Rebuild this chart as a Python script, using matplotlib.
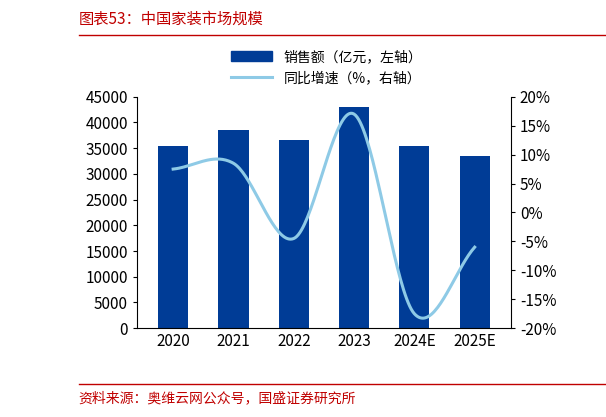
import numpy as np
import matplotlib.pyplot as plt
from matplotlib.lines import Line2D

plt.rcParams['font.family'] = ['Noto Sans CJK SC', 'DejaVu Sans']

years = ['2020', '2021', '2022', '2023', '2024E', '2025E']
sales = [35500, 38500, 36500, 43000, 35500, 33500]
growth = [7.5, 8.5, -4.5, 17.0, -17.5, -6.0]


def catmull_rom(x, y, n=40):
    # 类似 Excel 平滑线的插值
    x = np.asarray(x, float)
    y = np.asarray(y, float)
    px = np.concatenate([[2 * x[0] - x[1]], x, [2 * x[-1] - x[-2]]])
    py = np.concatenate([[2 * y[0] - y[1]], y, [2 * y[-1] - y[-2]]])
    xs, ys = [], []
    t = np.linspace(0, 1, n)
    for i in range(1, len(px) - 2):
        for p, out in ((px, xs), (py, ys)):
            p0, p1, p2, p3 = p[i - 1], p[i], p[i + 1], p[i + 2]
            out.extend(0.5 * (2 * p1 + (-p0 + p2) * t
                              + (2 * p0 - 5 * p1 + 4 * p2 - p3) * t ** 2
                              + (-p0 + 3 * p1 - 3 * p2 + p3) * t ** 3))
    return np.array(xs), np.array(ys)


fig = plt.figure(figsize=(6.06, 4.17), dpi=100)
ax = fig.add_axes([0.226, 0.213, 0.617, 0.555])
x = np.arange(len(years))
ax.bar(x, sales, width=0.5, color='#003C96')
ax.set_ylim(0, 45000)
ax.set_yticks(range(0, 45001, 5000))
ax.set_xticks(x)
ax.set_xticklabels(years)
ax.set_xlim(-0.6, len(years) - 0.4)
ax.tick_params(labelsize=11, length=0)
ax.tick_params(axis='y', length=3)
for s in ['top', 'right']:
    ax.spines[s].set_visible(False)

ax2 = ax.twinx()
xs, ys = catmull_rom(x, growth)
ax2.plot(xs, ys, color='#8ECAE6', lw=2.2)
ax2.set_ylim(-20, 20)
ax2.set_yticks(range(-20, 21, 5))
ax2.set_yticklabels([f'{v}%' for v in range(-20, 21, 5)])
ax2.tick_params(labelsize=11, length=3)
for s in ['top', 'left', 'bottom']:
    ax2.spines[s].set_visible(False)

handles = [plt.Rectangle((0, 0), 1, 1, color='#003C96'),
           Line2D([], [], color='#8ECAE6', lw=2.2)]
fig.legend(handles, ['销售额（亿元，左轴）', '同比增速（%，右轴）'],
           loc='upper left', bbox_to_anchor=(0.36, 0.91), frameon=False,
           fontsize=10, handlelength=3)

fig.text(0.13, 0.955, '图表53：中国家装市场规模', color='#C00000',
         fontsize=11, style='italic', va='center')
fig.add_artist(Line2D([0.13, 1.0], [0.915, 0.915], color='#C00000', lw=1))
fig.add_artist(Line2D([0.13, 1.0], [0.08, 0.08], color='#C00000', lw=1))
fig.text(0.13, 0.045, '资料来源：奥维云网公众号，国盛证券研究所', color='#C00000',
         fontsize=10, style='italic', va='center')

fig.savefig('out.png', dpi=100)
